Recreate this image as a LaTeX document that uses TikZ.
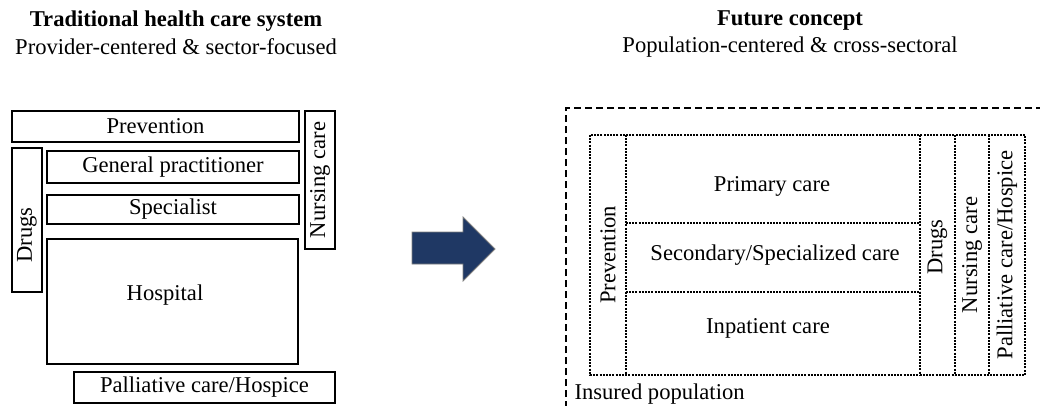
\documentclass[tikz,border=0pt]{standalone}
\usepackage{fontspec}
\setmainfont{Liberation Serif}
\definecolor{navy}{HTML}{1F3864}
\definecolor{edgegray}{HTML}{7F7F7F}
\tikzset{
  txt/.style={font=\fontsize{22.6}{27}\selectfont},
  solidbox/.style={draw, line width=1.4pt, inner sep=0pt, txt},
  cell/.style={inner sep=0pt, txt},
  dotline/.style={line width=2.4pt, dash pattern=on 2pt off 1.2pt},
  outerdash/.style={draw, line width=2.3pt, dash pattern=on 7pt off 4pt},
  bigarrow/.style={fill=navy, draw=edgegray, line width=0.8pt},
  title/.style={font=\bfseries\fontsize{22.6}{27}\selectfont},
  subtitle/.style={txt}
}
\begin{document}
\begin{tikzpicture}[x=1pt,y=-1pt]
\useasboundingbox (0,0) rectangle (1040,405);
\clip (0,0) rectangle (1040,405);

% titles
\node[title] (t1) at (176,21) {Traditional health care system};
\node[subtitle] (s1) at (176,47) {Provider-centered \& sector-focused};
\node[title] (t2) at (790,21) {Future concept};
\node[subtitle] (s2) at (790,47) {Population-centered \& cross-sectoral};

% left: traditional system
\node[solidbox, minimum width=287pt, minimum height=31pt] (prev) at (155.5,126.5) {Prevention};
\node[solidbox, rotate=90, minimum width=138pt, minimum height=30pt] (nurs) at (320,180) {Nursing care};
\node[solidbox, minimum width=30pt, minimum height=144pt] (drugs) at (27,220) {};
\node[txt, rotate=90] (drugsT) at (27,235) {Drugs};
\node[solidbox, minimum width=252pt, minimum height=32pt] (gp) at (173,167) {General practitioner};
\node[solidbox, minimum width=252pt, minimum height=29pt] (spec) at (173,209.5) {Specialist};
\node[solidbox, minimum width=251pt, minimum height=125pt] (hosp) at (172.5,301.5) {};
\node[txt] (hospT) at (165,295) {Hospital};
\node[solidbox, minimum width=261pt, minimum height=31pt] (pall) at (204.5,387.5) {Palliative care/Hospice};

% arrow
\draw[bigarrow] (412,232) -- (463,232) -- (463,217) -- (495,249) -- (463,281) -- (463,264) -- (412,264) -- cycle;

% right: future concept
\draw[outerdash] (566,430) -- (566,108) -- (1060,108);
\node[txt, anchor=west] (ins) at (571,394) {Insured population};

\node[cell, rotate=90, minimum width=240pt, minimum height=36pt] (rprev) at (608,255) {Prevention};
\node[cell, minimum width=294pt, minimum height=88pt] (prim) at (773,179) {};
\node[txt] (primT) at (772,186) {Primary care};
\node[cell, minimum width=294pt, minimum height=69pt] (sec) at (773,257.5) {};
\node[txt] (secT) at (775,255) {Secondary/Specialized care};
\node[cell, minimum width=294pt, minimum height=83pt] (inp) at (773,333.5) {};
\node[txt] (inpT) at (768,328) {Inpatient care};
\node[cell, rotate=90, minimum width=240pt, minimum height=35pt] (rdrugs) at (937.5,255) {};
\node[txt, rotate=90] (rdrugsT) at (937.5,247) {Drugs};
\node[cell, rotate=90, minimum width=240pt, minimum height=34pt] (rnurs) at (972,255) {Nursing care};
\node[cell, rotate=90, minimum width=240pt, minimum height=36pt] (rpall) at (1007,255) {Palliative care/Hospice};

% dotted grid
\draw[dotline] (590,135) rectangle (1025,375);
\draw[dotline] (prim.north west) -- (inp.south west);
\draw[dotline] (prim.north east) -- (inp.south east);
\draw[dotline] (955,135) -- (955,375);
\draw[dotline] (989,135) -- (989,375);
\draw[dotline] (prim.south west) -- (prim.south east);
\draw[dotline] (inp.north west) -- (inp.north east);
\end{tikzpicture}
\end{document}
